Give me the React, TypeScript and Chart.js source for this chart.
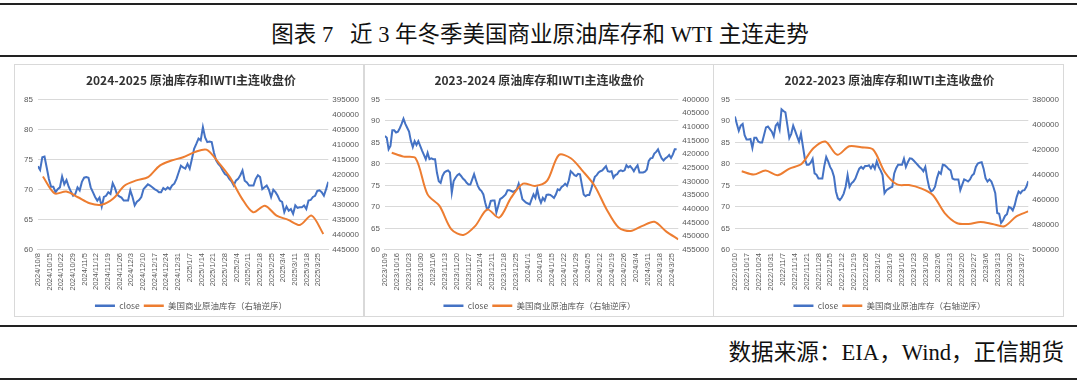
import React, { useEffect, useRef } from "react";
import { Chart, registerables } from "chart.js";

Chart.register(...registerables);

const BLUE = "#4472C4";
const ORANGE = "#ED7D31";
const TICK_COLOR = "#595959";
const GRID_COLOR = "#d9d9d9";
const SANS = "'Liberation Sans', 'Noto Sans CJK SC', sans-serif";
const CJK = "'Noto Sans CJK SC', 'Liberation Sans', sans-serif";

const FIGURE_TITLE = "图表 7   近 3 年冬季美国商业原油库存和 WTI 主连走势";
const SOURCE_TEXT = "数据来源：EIA，Wind，正信期货";
const SERIES_CLOSE = "close";
const SERIES_INV = "美国商业原油库存（右轴逆序）";

// ---------- 2024-2025 ----------
const title2425 = "2024-2025 原油库存和IWTI主连收盘价";
const xLabels2425 = [
  "2024/10/8", "2024/10/15", "2024/10/22", "2024/10/29", "2024/11/5", "2024/11/12", "2024/11/19",
  "2024/11/26", "2024/12/3", "2024/12/10", "2024/12/17", "2024/12/24", "2024/12/31", "2025/1/7",
  "2025/1/14", "2025/1/21", "2025/1/28", "2025/2/4", "2025/2/11", "2025/2/18", "2025/2/25",
  "2025/3/4", "2025/3/11", "2025/3/18", "2025/3/25",
];
const closeFrom2425 = "2024/10/8";
const closeTo2425 = "2025/3/31";
const close2425 = [
  73.9, 73.3, 75.4, 75.5, 73.7, 71.8, 70.5, 70.5, 69.6, 70.1, 70.4, 72.2, 70.9, 71.6, 70.5, 69.7,
  69.0, 69.3, 70.4, 69.9, 71.3, 72.0, 72.1, 72.0, 70.4, 69.6, 68.8, 68.2, 68.7, 67.2, 68.8, 69.0,
  69.6, 69.3, 71.1, 70.3, 69.2, 68.9, 68.7, 68.2, 68.2, 68.2, 69.9, 68.8, 67.4, 68.0, 68.3, 68.8,
  70.1, 70.5, 70.9, 70.7, 70.4, 70.1, 69.9, 69.6, 69.6, 70.3, 70.0, 70.4, 70.1, 70.7, 71.0, 71.8,
  72.9, 74.0, 73.7, 73.5, 74.3, 73.5, 75.1, 76.8, 77.6, 78.5, 78.2, 80.4, 78.7, 77.9, 78.0, 77.9,
  76.2, 74.9, 74.3, 73.9, 73.2, 72.6, 72.4, 71.8, 71.4, 70.7, 71.5, 71.8, 72.4, 73.2, 71.5, 71.2,
  70.7, 70.7, 70.7, 71.8, 72.4, 72.1, 70.1, 70.4, 70.7, 70.0, 68.8, 70.0, 69.6, 69.0, 68.2, 68.0,
  66.3, 67.2, 66.5, 66.8, 66.0, 67.4, 67.0, 67.1, 67.1, 67.4, 66.8, 68.2, 68.3, 68.8, 69.0, 69.8,
  69.9, 69.6, 69.0, 70.1, 71.3,
];
const invFrom2425 = "2024/10/11";
const inv2425 = [
  420600, 426200, 425600, 427500, 429500, 430000, 428000, 423600, 421900, 420800, 417000, 415300,
  414200, 412500, 411700, 415800, 420800, 427700, 432500, 430300, 433600, 435000, 436700, 433600,
  439700,
];

// ---------- 2023-2024 ----------
const title2324 = "2023-2024 原油库存和IWTI主连收盘价";
const xLabels2324 = [
  "2023/10/9", "2023/10/16", "2023/10/23", "2023/10/30", "2023/11/6", "2023/11/13", "2023/11/20",
  "2023/11/27", "2023/12/4", "2023/12/11", "2023/12/18", "2023/12/25", "2024/1/1", "2024/1/8",
  "2024/1/15", "2024/1/22", "2024/1/29", "2024/2/5", "2024/2/12", "2024/2/19", "2024/2/26",
  "2024/3/4", "2024/3/11", "2024/3/18", "2024/3/25",
];
const closeFrom2324 = "2023/10/9";
const closeTo2324 = "2024/3/28";
const close2324 = [
  86.5, 86.1, 83.4, 84.2, 87.8, 87.8, 87.3, 87.5, 88.3, 89.3, 90.5, 89.3, 88.4, 87.5, 85.3, 83.9,
  85.3, 84.4, 85.3, 84.2, 83.1, 82.1, 81.1, 82.6, 81.1, 81.3, 81.1, 81.1, 78.0, 76.0, 75.6, 77.2,
  78.0, 78.3, 78.5, 78.0, 73.3, 76.0, 76.8, 77.4, 77.7, 77.2, 76.6, 76.2, 75.6, 75.2, 75.2, 76.4,
  77.6, 76.2, 74.9, 74.1, 73.7, 72.9, 71.0, 69.4, 69.9, 71.4, 71.5, 71.5, 68.7, 70.2, 71.8, 72.1,
  72.5, 72.9, 73.9, 73.9, 73.7, 73.5, 73.7, 74.1, 75.4, 73.7, 71.8, 71.4, 71.0, 70.8, 70.6, 71.8,
  72.9, 72.1, 74.1, 72.1, 71.0, 72.1, 71.5, 72.8, 72.9, 72.8, 72.5, 72.1, 72.9, 74.1, 73.9, 74.6,
  74.9, 75.4, 74.9, 76.2, 78.3, 77.9, 77.4, 77.2, 77.7, 77.6, 75.2, 72.9, 72.5, 72.8, 72.8, 74.1,
  75.6, 77.0, 77.4, 78.0, 78.3, 78.5, 79.0, 79.5, 78.3, 78.2, 78.3, 76.8, 77.4, 77.6, 78.3, 78.5,
  78.3, 78.5, 79.7, 79.2, 79.5, 79.0, 78.3, 79.1, 79.7, 78.0, 78.0, 78.0, 78.2, 78.7, 80.7, 81.3,
  81.4, 82.4, 82.8, 83.4, 82.2, 81.3, 80.8, 81.3, 81.6, 82.1, 81.4, 82.2, 83.4, 83.4,
];
const invFrom2324 = "2023/10/13";
const inv2324 = [
  419500, 420900, 421500, 434700, 438900, 447500, 449500, 446200, 440200, 443200, 435900, 430800,
  431600, 429800, 420300, 421500, 426200, 431600, 440200, 446800, 448100, 446200, 444700, 448300,
  451100,
];

// ---------- 2022-2023 ----------
const title2223 = "2022-2023 原油库存和IWTI主连收盘价";
const xLabels2223 = [
  "2022/10/10", "2022/10/17", "2022/10/24", "2022/10/31", "2022/11/7", "2022/11/14", "2022/11/21",
  "2022/11/28", "2022/12/5", "2022/12/12", "2022/12/19", "2022/12/26", "2023/1/2", "2023/1/9",
  "2023/1/16", "2023/1/23", "2023/1/30", "2023/2/6", "2023/2/13", "2023/2/20", "2023/2/27",
  "2023/3/6", "2023/3/13", "2023/3/20", "2023/3/27",
];
const closeFrom2223 = "2022/10/10";
const closeTo2223 = "2023/3/31";
const close2223 = [
  91.0, 89.3, 87.7, 88.9, 89.3, 86.7, 85.7, 85.7, 85.8, 83.7, 86.1, 86.1, 85.2, 85.0, 85.0, 86.7,
  88.5, 88.7, 88.1, 87.5, 86.4, 88.9, 89.5, 88.0, 92.7, 92.3, 92.0, 89.0, 86.0, 87.0, 88.9, 87.7,
  86.4, 85.2, 87.0, 84.1, 81.2, 79.8, 79.8, 80.3, 81.2, 77.8, 77.5, 76.6, 76.6, 76.6, 79.5, 81.6,
  80.6, 79.3, 78.5, 77.0, 73.6, 72.0, 71.6, 72.2, 73.1, 74.7, 77.4, 74.7, 75.5, 75.9, 76.6, 77.8,
  78.9, 79.3, 78.9, 79.5, 79.5, 79.7, 79.0, 79.8, 78.9, 80.6, 79.3, 78.5, 77.4, 73.2, 73.9, 74.2,
  74.5, 74.7, 77.8, 79.0, 79.8, 79.8, 79.8, 81.2, 79.3, 80.4, 81.3, 81.2, 80.8, 80.3, 79.8, 79.3,
  78.9, 78.3, 79.3, 76.6, 74.5, 73.6, 73.9, 74.7, 76.7, 78.1, 77.7, 79.8, 79.7, 79.3, 78.8, 78.5,
  76.6, 76.4, 76.4, 76.4, 73.9, 75.2, 76.4, 76.2, 75.9, 76.4, 77.3, 77.7, 79.3, 80.1, 80.3, 80.4,
  78.9, 76.7, 75.9, 76.4, 75.9, 74.7, 73.2, 68.6, 68.4, 66.3, 66.9, 67.9, 68.3, 70.0, 69.8, 69.2,
  70.4, 72.3, 73.6, 73.2, 73.8, 73.9, 74.7, 76.0,
];
const invFrom2223 = "2022/10/14";
const inv2223 = [
  437250, 439900, 436700, 440400, 435100, 431500, 418900, 413600, 424100, 417300, 418100, 419900,
  438300, 447800, 448300, 450900, 456200, 470600, 478500, 479300, 477700, 479300, 481100, 473200,
  469300,
];

// axis ranges
const leftAxis2425 = { min: 60, max: 85, step: 5 };
const rightAxis2425 = { min: 395000, max: 445000, step: 5000 };
const leftAxis2324 = { min: 60, max: 95, step: 5 };
const rightAxis2324 = { min: 400000, max: 455000, step: 5000 };
const leftAxis2223 = { min: 60, max: 95, step: 5 };
const rightAxis2223 = { min: 380000, max: 500000, step: 20000 };

function toDay(s: string): number {
  const [y, m, d] = s.split("/").map(Number);
  return Date.UTC(y, m - 1, d) / 86400000;
}

type PanelProps = {
  title: string;
  xLabels: string[];
  closeFrom: string;
  closeTo: string;
  close: number[];
  invFrom: string;
  inv: number[];
  left: { min: number; max: number; step: number };
  right: { min: number; max: number; step: number };
  box: { x: number; y: number; w: number; h: number };
  padLeft: number;
  padRight: number;
};

function Panel(p: PanelProps) {
  const ref = useRef<HTMLCanvasElement | null>(null);
  useEffect(() => {
    if (!ref.current) return;
    const d0 = toDay(p.xLabels[0]);
    const cs = toDay(p.closeFrom) - d0;
    const ce = toDay(p.closeTo) - d0;
    const closeData = p.close.map((v, i) => ({ x: cs + ((ce - cs) * i) / (p.close.length - 1), y: v }));
    const is = toDay(p.invFrom) - d0;
    const invData = p.inv.map((v, i) => ({ x: is + 7 * i, y: v }));
    const tickDays = p.xLabels.map((l) => toDay(l) - d0);
    const xMax = Math.max(ce, is + 7 * (p.inv.length - 1));

    const chart = new Chart(ref.current, {
      type: "line",
      data: {
        datasets: [
          {
            label: SERIES_CLOSE,
            data: closeData,
            borderColor: BLUE,
            backgroundColor: BLUE,
            borderWidth: 2,
            pointRadius: 0,
            tension: 0,
            yAxisID: "y",
            order: 1,
          },
          {
            label: SERIES_INV,
            data: invData,
            borderColor: ORANGE,
            backgroundColor: ORANGE,
            borderWidth: 2,
            pointRadius: 0,
            tension: 0.3,
            yAxisID: "y1",
            order: 0,
          },
        ],
      },
      options: {
        animation: false,
        responsive: false,
        devicePixelRatio: 1,
        layout: { padding: { left: p.padLeft, right: p.padRight, top: 0, bottom: -4 } },
        scales: {
          x: {
            type: "linear",
            min: 0,
            max: xMax,
            afterBuildTicks: (s: any) => {
              s.ticks = tickDays.map((v) => ({ value: v }));
            },
            afterFit: (s: any) => {
              s.height = s.height + 4;
            },
            ticks: {
              autoSkip: false,
              minRotation: 90,
              maxRotation: 90,
              padding: 3,
              color: TICK_COLOR,
              font: { size: 7.5, family: SANS },
              callback: (_v: any, i: number) => p.xLabels[i],
            },
            grid: { display: false, drawTicks: false },
            border: { display: true, color: GRID_COLOR, width: 1 },
          },
          y: {
            position: "left",
            min: p.left.min,
            max: p.left.max,
            ticks: {
              stepSize: p.left.step,
              padding: 5,
              color: TICK_COLOR,
              font: { size: 8, family: SANS },
            },
            grid: { color: GRID_COLOR, drawTicks: false },
            border: { display: false },
          },
          y1: {
            position: "right",
            reverse: true,
            min: p.right.min,
            max: p.right.max,
            ticks: {
              stepSize: p.right.step,
              padding: 4,
              color: TICK_COLOR,
              font: { size: 8, family: SANS },
              callback: (v: any) => String(v),
            },
            grid: { display: false, drawTicks: false },
            border: { display: false },
          },
        },
        plugins: {
          title: {
            display: true,
            text: p.title,
            color: "#333333",
            font: { size: 12, weight: "bold", family: CJK },
            padding: { top: 8, bottom: 12 },
          },
          legend: {
            display: true,
            position: "bottom",
            labels: {
              boxWidth: 20,
              boxHeight: 2.5,
              padding: 4,
              color: TICK_COLOR,
              font: { size: 8.5, family: CJK },
              generateLabels: (c: any) =>
                c.data.datasets.map((ds: any, i: number) => ({
                  text: ds.label,
                  fillStyle: ds.borderColor,
                  strokeStyle: ds.borderColor,
                  lineWidth: 0,
                  hidden: false,
                  datasetIndex: i,
                  fontColor: TICK_COLOR,
                })),
            },
          },
          tooltip: { enabled: false },
        },
      },
    } as any);
    return () => chart.destroy();
  }, []);
  return (
    <div
      style={{
        position: "absolute",
        left: p.box.x,
        top: p.box.y,
        width: p.box.w,
        height: p.box.h,
        border: `1px solid ${GRID_COLOR}`,
        boxSizing: "border-box",
        background: "#fff",
      }}
    >
      <canvas ref={ref} width={p.box.w - 2} height={p.box.h - 2} style={{ display: "block" }} />
    </div>
  );
}

const rule = (top: number): React.CSSProperties => ({
  position: "absolute",
  left: 0,
  top,
  width: 1077,
  height: 2,
  background: "#222",
});

export default function App() {
  return (
    <div
      style={{
        position: "absolute",
        left: 0,
        top: 0,
        width: 1080,
        height: 384,
        background: "#fff",
        overflow: "hidden",
      }}
    >
      <div style={rule(3)} />
      <div
        style={{
          position: "absolute",
          left: 0,
          top: 18,
          width: 1080,
          height: 34,
          lineHeight: "34px",
          textAlign: "center",
          fontSize: 22.5,
          whiteSpace: "pre",
          color: "#111",
          fontFamily: "'Liberation Serif', 'Noto Sans CJK SC', serif",
        }}
      >
        {FIGURE_TITLE}
      </div>
      <div style={rule(55)} />
      <Panel
        title={title2425}
        xLabels={xLabels2425}
        closeFrom={closeFrom2425}
        closeTo={closeTo2425}
        close={close2425}
        invFrom={invFrom2425}
        inv={inv2425}
        left={leftAxis2425}
        right={rightAxis2425}
        box={{ x: 14, y: 64, w: 350, h: 253 }}
        padLeft={4}
        padRight={0}
      />
      <Panel
        title={title2324}
        xLabels={xLabels2324}
        closeFrom={closeFrom2324}
        closeTo={closeTo2324}
        close={close2324}
        invFrom={invFrom2324}
        inv={inv2324}
        left={leftAxis2324}
        right={rightAxis2324}
        box={{ x: 364, y: 64, w: 350, h: 253 }}
        padLeft={1}
        padRight={0}
      />
      <Panel
        title={title2223}
        xLabels={xLabels2223}
        closeFrom={closeFrom2223}
        closeTo={closeTo2223}
        close={close2223}
        invFrom={invFrom2223}
        inv={inv2223}
        left={leftAxis2223}
        right={rightAxis2223}
        box={{ x: 713, y: 64, w: 351, h: 253 }}
        padLeft={2}
        padRight={0}
      />
      <div style={rule(325)} />
      <div
        style={{
          position: "absolute",
          right: 1080 - 1064,
          top: 339,
          height: 28,
          lineHeight: "28px",
          fontSize: 22.6,
          whiteSpace: "pre",
          color: "#111",
          fontFamily: "'Liberation Serif', 'Noto Sans CJK SC', serif",
        }}
      >
        {SOURCE_TEXT}
      </div>
      <div style={rule(378)} />
    </div>
  );
}
